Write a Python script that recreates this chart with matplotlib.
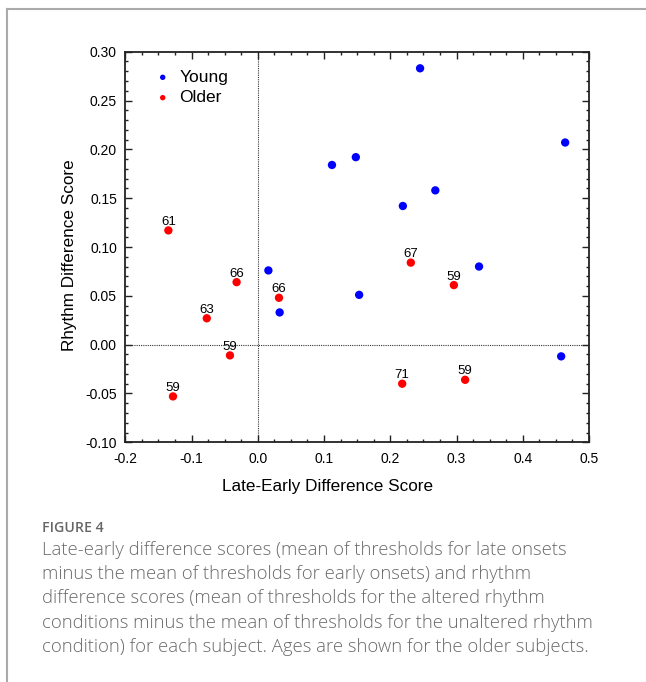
import matplotlib
matplotlib.use("Agg")
import matplotlib.pyplot as plt
from matplotlib.lines import Line2D
from matplotlib.ticker import MultipleLocator, FormatStrFormatter

# Young subjects
young_x = [0.245, 0.464, 0.148, 0.112, 0.268, 0.219, 0.334, 0.016, 0.153, 0.033, 0.458]
young_y = [0.283, 0.207, 0.192, 0.184, 0.158, 0.142, 0.080, 0.076, 0.051, 0.033, -0.012]

# Older subjects, with ages
older_x = [-0.135, -0.032, 0.032, -0.077, -0.042, -0.128, 0.231, 0.296, 0.218, 0.313]
older_y = [0.117, 0.064, 0.048, 0.027, -0.011, -0.053, 0.084, 0.061, -0.040, -0.036]
older_age = [61, 66, 66, 63, 59, 59, 67, 59, 71, 59]

caption_title = "FIGURE 4"
caption_lines = [
    "Late-early difference scores (mean of thresholds for late onsets",
    "minus the mean of thresholds for early onsets) and rhythm",
    "difference scores (mean of thresholds for the altered rhythm",
    "conditions minus the mean of thresholds for the unaltered rhythm",
    "condition) for each subject. Ages are shown for the older subjects.",
]

plt.rcParams['font.family'] = ['Liberation Sans', 'DejaVu Sans']

W, H = 646, 682
fig = plt.figure(figsize=(W / 100, H / 100), dpi=100)
ax = fig.add_axes([125.3 / W, 1 - 442.3 / H, (589 - 125.3) / W, (442.3 - 51.7) / H])

ax.axvline(0, color='#333333', linestyle=(0, (1, 1)), linewidth=0.8, zorder=1)
ax.axhline(0, color='#333333', linestyle=(0, (1, 1)), linewidth=0.8, zorder=1)

ax.scatter(young_x, young_y, s=36, color='#0000ff', edgecolors='none', label='Young', zorder=3)
ax.scatter(older_x, older_y, s=36, color='#ff0000', edgecolors='none', label='Older', zorder=3)

for x, y, a in zip(older_x, older_y, older_age):
    ax.annotate(str(a), (x, y), xytext=(0, 4), textcoords='offset points',
                ha='center', va='baseline', fontsize=9.5)

ax.set_xlim(-0.2, 0.5)
ax.set_ylim(-0.1, 0.3)
ax.xaxis.set_major_locator(MultipleLocator(0.1))
ax.xaxis.set_minor_locator(MultipleLocator(0.025))
ax.yaxis.set_major_locator(MultipleLocator(0.05))
ax.yaxis.set_minor_locator(MultipleLocator(0.01))
ax.xaxis.set_major_formatter(FormatStrFormatter('%.1f'))
ax.yaxis.set_major_formatter(FormatStrFormatter('%.2f'))
ax.tick_params(which='both', direction='in', top=True, right=True, labelsize=10,
               width=1.0, color='#222222')
ax.tick_params(axis='x', which='major', length=5, pad=7)
ax.tick_params(axis='y', which='major', length=5, pad=6)
ax.tick_params(which='minor', length=2.5)
for sp in ax.spines.values():
    sp.set_linewidth(1.3)
    sp.set_color('#222222')

ax.set_xlabel("Late-Early Difference Score", fontsize=12.3)
ax.set_ylabel("Rhythm Difference Score", fontsize=12.3)
ax.xaxis.set_label_coords(0.437, -0.095)
ax.yaxis.set_label_coords(-0.105, 0.48)

ax.legend(loc='upper left', bbox_to_anchor=(0.032, 0.985), frameon=False, fontsize=12.5,
          markerscale=0.65, handletextpad=0.35, labelspacing=0.3, borderaxespad=0.3,
          handlelength=1.2)

# journal frame
fig.add_artist(Line2D([7 / W, 1], [1 - 8.5 / H, 1 - 8.5 / H], color='#aaaaaa', linewidth=1.5,
                      transform=fig.transFigure))
fig.add_artist(Line2D([7 / W, 7 / W], [1 - 8.5 / H, 0], color='#aaaaaa', linewidth=1.5,
                      transform=fig.transFigure))

fig.text(42 / W, 1 - 532 / H, caption_title, fontsize=10.2, color='#666666',
         family=['Open Sans', 'DejaVu Sans'], fontweight='semibold', va='baseline')
for i, line in enumerate(caption_lines):
    fig.text(42 / W, 1 - (555 + 24.2 * i) / H, line, fontsize=13.35, color='#6a6a6a',
             family=['Open Sans', 'DejaVu Sans'], fontweight='light', va='baseline')

fig.savefig("out.png", dpi=100)
